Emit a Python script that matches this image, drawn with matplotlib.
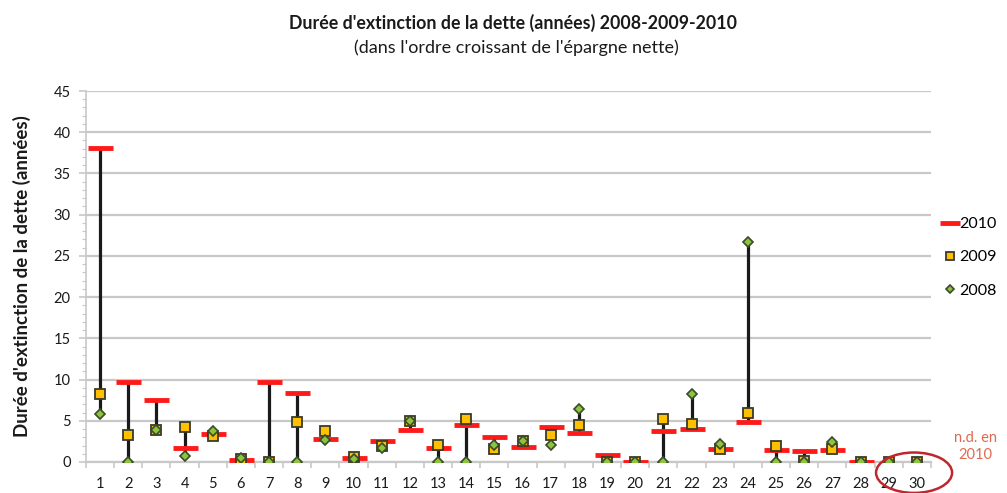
import numpy as np
import matplotlib
matplotlib.use('Agg')
import matplotlib.pyplot as plt
from matplotlib.patches import Ellipse
from matplotlib.ticker import MultipleLocator

plt.rcParams['font.family'] = ['Lato', 'DejaVu Sans']

# Data (années)
communes = list(range(1, 31))
y2010 = [38.1, 9.7, 7.5, 1.7, 3.4, 0.2, 9.7, 8.4, 2.8, 0.5,
         2.6, 3.9, 1.7, 4.5, 3.0, 1.8, 4.2, 3.5, 0.8, 0.0,
         3.7, 4.0, 1.6, 4.9, 1.4, 1.3, 1.4, 0.0, np.nan, np.nan]
y2009 = [8.2, 3.3, 3.9, 4.2, 3.1, 0.4, 0.0, 4.9, 3.7, 0.6,
         2.0, 5.0, 2.1, 5.2, 1.6, 2.6, 3.3, 4.5, 0.0, 0.0,
         5.2, 4.6, 1.6, 6.0, 2.0, 0.1, 1.6, 0.0, 0.0, 0.0]
y2008 = [5.8, 0.0, 3.9, 0.7, 3.7, 0.5, 0.0, 0.0, 2.7, 0.4,
         1.7, 5.0, 0.0, 0.0, 2.1, 2.6, 2.1, 6.4, 0.0, 0.0,
         0.0, 8.3, 2.2, 26.7, 0.0, 0.0, 2.4, 0.0, 0.0, 0.0]

x = np.array(communes)
allv = np.array([y2010, y2009, y2008], dtype=float)
lo = np.nanmin(allv, axis=0)
hi = np.nanmax(allv, axis=0)

fig = plt.figure(figsize=(10.07, 4.93), dpi=100)
ax = fig.add_axes([0.0854, 0.0629, 0.8391, 0.7525])

# high-low lines
ax.vlines(x, lo, hi, color='#1a1a1a', linewidth=2.3, zorder=3)

ax.plot(x, y2010, linestyle='none', marker='_', markersize=18,
        markeredgewidth=3.5, color='#ff1a1a', zorder=4, label='2010')
ax.plot(x, y2009, linestyle='none', marker='s', markersize=7.5,
        markerfacecolor='#ffc000', markeredgecolor='#3a3a2a',
        markeredgewidth=1.3, zorder=5, label='2009')
ax.plot(x, y2008, linestyle='none', marker='D', markersize=5.5,
        markerfacecolor='#8cc43c', markeredgecolor='#3a4a2a',
        markeredgewidth=1.2, zorder=6, label='2008')

ax.set_xlim(0.5, 30.5)
ax.set_ylim(0, 45)
ax.yaxis.set_major_locator(MultipleLocator(5))
ax.yaxis.set_minor_locator(MultipleLocator(1))
ax.grid(axis='y', which='major', color='#c8c8c8', linewidth=1.6, zorder=0)

ax.set_xticks(x)
ax.set_xticklabels([str(c) for c in communes], fontsize=10.5, color='#1a1a1a')
ax.set_xticks(np.arange(0.5, 31, 1), minor=True)
ax.tick_params(axis='x', which='major', length=0, pad=11)
ax.tick_params(axis='x', which='minor', length=4, color='#c8c8c8', width=1.2)
ax.tick_params(axis='y', which='major', length=5, color='#c8c8c8', width=1.2,
               labelsize=10.5, labelcolor='#1a1a1a', pad=6)
ax.tick_params(axis='y', which='minor', length=3, color='#c8c8c8', width=0.8)

for s in ['top', 'right']:
    ax.spines[s].set_visible(False)
ax.spines['left'].set_color('#c8c8c8')
ax.spines['left'].set_linewidth(1.2)
ax.spines['bottom'].set_color('#c8c8c8')
ax.spines['bottom'].set_linewidth(1.6)

ax.set_ylabel("Durée d'extinction de la dette (années)", fontsize=13.5,
              fontweight='bold', color='#1a1a1a', labelpad=16)

fig.text(0.509, 0.953, "Durée d'extinction de la dette (années) 2008-2009-2010",
         ha='center', va='center', fontsize=12.8, fontweight='bold', color='#1a1a1a')
fig.text(0.513, 0.903, "(dans l'ordre croissant de l'épargne nette)",
         ha='center', va='center', fontsize=13, color='#1a1a1a')

leg = fig.legend(*ax.get_legend_handles_labels(), loc='upper left',
                 bbox_to_anchor=(0.936, 0.56), frameon=False,
                 fontsize=11.5, handlelength=0.9, handletextpad=0.15,
                 labelspacing=1.2, borderaxespad=0, borderpad=0,
                 markerscale=0.8)

fig.text(0.969, 0.095, "n.d. en\n2010", ha='center', va='center',
         fontsize=10.5, color='#e0694f', linespacing=1.25)

ell = Ellipse((29.9, -1.3), width=2.7, height=4.9, transform=ax.transData,
              fill=False, edgecolor='#c0262d', linewidth=1.8, clip_on=False, zorder=7)
ax.add_patch(ell)

fig.savefig('out.png', dpi=100)
